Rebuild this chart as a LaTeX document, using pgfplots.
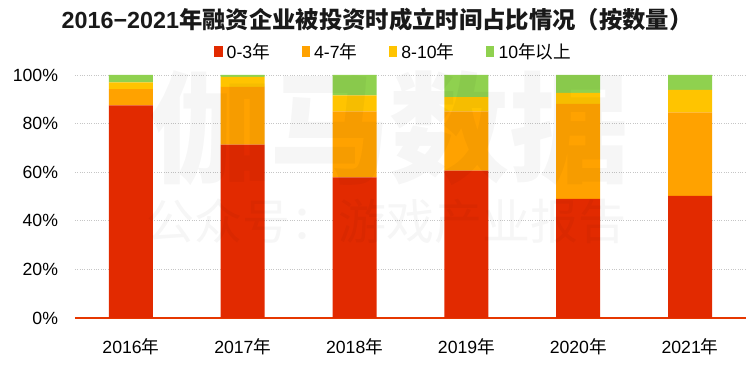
\documentclass[border=0pt]{standalone}
\usepackage{pgfplots}
\pgfplotsset{compat=1.18}
\usepackage{fontspec}
\setmainfont{Liberation Sans}
\newfontfamily\cjk{Noto Sans CJK SC}
\definecolor{cA}{HTML}{E22A00}
\definecolor{cB}{HTML}{FFA200}
\definecolor{cC}{HTML}{FFC400}
\definecolor{cD}{HTML}{8FD14F}
\begin{document}
\begin{tikzpicture}
\begin{axis}[
  scale only axis, width=402.6pt, height=145.8pt,
  ybar stacked, bar width=26.4pt,
  xmin=-0.5, xmax=5.5, ymin=0, ymax=100,
  xtick=data, xticklabels={2016{\cjk 年},2017{\cjk 年},2018{\cjk 年},2019{\cjk 年},2020{\cjk 年},2021{\cjk 年}},
  ytick={0,20,40,60,80,100}, yticklabel={\pgfmathprintnumber{\tick}\%},
  /pgf/number format/assume math mode=true,
  tick style={draw=none},
  axis x line*=bottom, axis y line*=left,
  x axis line style={draw=cA!85!orange, line width=0.8pt, -},
  y axis line style={draw=none},
  ymajorgrids, grid style={densely dotted, gray!45, line width=0.5pt},
  tick label style={font=\fontsize{10.6}{11}\selectfont, text=black},
  yticklabel style={anchor=east, inner sep=0pt, xshift=-10pt},
  xticklabel style={anchor=center, yshift=-17pt},
  legend style={at={(0.476,1.095)}, anchor=center, draw=none, fill=none,
    legend columns=4, font=\fontsize{10.6}{11}\selectfont,
    /tikz/every even column/.append style={column sep=17pt},
    /tikz/every odd column/.append style={column sep=0pt}},
  legend image code/.code={\fill[#1] (0pt,-3pt) rectangle (5pt,3.5pt); \path (5.5pt,0pt);},
]
\addplot[fill=cA, draw=none] coordinates {(0,87.5) (1,71.3) (2,57.9) (3,60.6) (4,49.0) (5,50.3)};
\addplot[fill=cB, draw=none] coordinates {(0,6.7) (1,23.8) (2,27.1) (3,24.4) (4,39.1) (5,34.3)};
\addplot[fill=cC, draw=none] coordinates {(0,2.8) (1,4.1) (2,6.6) (3,5.9) (4,4.5) (5,9.3)};
\addplot[fill=cD, draw=none] coordinates {(0,3.0) (1,0.8) (2,8.4) (3,9.1) (4,7.4) (5,6.1)};
\legend{0-3{\cjk 年},4-7{\cjk 年},8-10{\cjk 年},10{\cjk 年以上}}
\coordinate (O) at (rel axis cs:0,0);
\end{axis}
\path (O) ++(-45pt,-28.2pt) coordinate (BL) rectangle ++(450pt,219pt);
\node[font=\cjk\fontsize{72}{72}\selectfont\bfseries, text=black, opacity=0.035] at ([shift={(234pt,142pt)}]BL) {伽马数据};
\node[font=\cjk\fontsize{28.8}{29}\selectfont, text=black, opacity=0.035] at ([shift={(232pt,86pt)}]BL) {公众号：游戏产业报告};
\node[font=\fontsize{14}{15}\selectfont\bfseries, text=black!90] at ([shift={(226.2pt,207pt)}]BL) {2016−2021{\cjk\bfseries 年融资企业被投资时成立时间占比情况（按数量）}};
\end{tikzpicture}
\end{document}
